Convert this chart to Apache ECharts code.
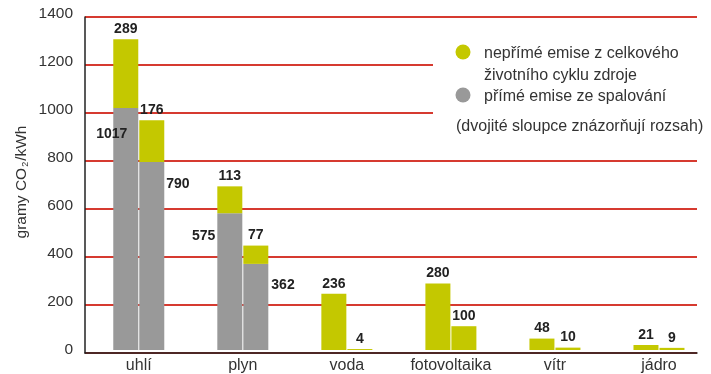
<!DOCTYPE html>
<html>
<head>
<meta charset="utf-8">
<script src="https://cdn.jsdelivr.net/npm/echarts@6/dist/echarts.min.js"></script>
<style>
  html, body { margin: 0; padding: 0; background: #fff; }
  #chart { width: 711px; height: 374px; }
</style>
</head>
<body>
<div id="chart"></div>
<script>
// Emissions per source, grams CO2 per kWh; each source has a pair of bars (range)
const categories = ['uhlí', 'plyn', 'voda', 'fotovoltaika', 'vítr', 'jádro'];
// left bar of each pair
const directA   = [1017, 575, null, null, null, null];
const indirectA = [289, 113, 236, 280, 48, 21];
// right bar of each pair
const directB   = [790, 362, null, null, null, null];
const indirectB = [176, 77, 4, 100, 10, 9];
// value-axis ticks
const yTickValues = [0, 200, 400, 600, 800, 1000, 1200, 1400];

const GREEN = '#c4c800';
const GREY = '#999999';
const GRID_RED = '#d63a30';
const FONT = '"Liberation Sans", Arial, sans-serif';

// label placement for the grey segments (relative to the bar rectangle)
const greyLabelA = [[14, 26], [-2, 23]];
const greyLabelB = [[27, 22], [28, 21]];

function greyData(values, offsets, align) {
  return values.map((v, i) => {
    if (v == null) return null;
    return {
      value: v,
      label: { show: true, position: offsets[i], align: align, verticalAlign: 'middle' }
    };
  });
}

const labelStyle = {
  fontFamily: FONT, fontWeight: 'bold', fontSize: 14, color: '#222'
};

const yMin = yTickValues[0];
const yMax = yTickValues[yTickValues.length - 1];
const yStep = yTickValues[1] - yTickValues[0];

const chart = echarts.init(document.getElementById('chart'), null, { renderer: 'canvas' });

const option = {
  animation: false,
  backgroundColor: '#fff',
  grid: [
    // bars
    { left: 86.75, right: -14, top: 17, bottom: 21 },
    // value axis + gridlines
    { left: 85, right: 14, top: 17, bottom: 21 }
  ],
  xAxis: [
    {
      type: 'category', gridIndex: 0, data: categories,
      axisLine: { show: false }, axisTick: { show: false },
      axisLabel: { fontFamily: FONT, fontSize: 16, color: '#333', margin: 8, interval: 0, hideOverlap: false }
    },
    {
      type: 'value', gridIndex: 1, min: 0, max: 1,
      axisLine: { show: true, onZero: false, lineStyle: { color: '#222', width: 1.5 } },
      axisTick: { show: false }, axisLabel: { show: false }, splitLine: { show: false }
    }
  ],
  yAxis: [
    {
      type: 'value', gridIndex: 0, min: yMin, max: yMax, interval: yStep,
      show: false, splitLine: { show: false }
    },
    {
      type: 'value', gridIndex: 1, min: yMin, max: yMax, interval: yStep,
      axisLine: { show: true, lineStyle: { color: '#222', width: 1.5 } },
      axisTick: { show: false },
      axisLabel: {
        fontFamily: FONT, fontSize: 15.5, color: '#333', margin: 12,
        verticalAlign: 'bottom', padding: [0, 0, -5, 0],
        formatter: v => String(v)
      },
      splitLine: { show: true, lineStyle: { color: GRID_RED, width: 2 } }
    }
  ],
  series: [
    {
      type: 'bar', xAxisIndex: 0, yAxisIndex: 0, stack: 'a', barWidth: 25, barGap: '4%',
      itemStyle: { color: GREY },
      label: Object.assign({ show: false, formatter: '{c}' }, labelStyle),
      data: greyData(directA, greyLabelA, 'right')
    },
    {
      type: 'bar', xAxisIndex: 0, yAxisIndex: 0, stack: 'a', barWidth: 25, barGap: '4%',
      itemStyle: { color: GREEN },
      label: Object.assign({ show: true, position: 'top', distance: 3 }, labelStyle),
      data: indirectA
    },
    {
      type: 'bar', xAxisIndex: 0, yAxisIndex: 0, stack: 'b', barWidth: 25, barGap: '4%',
      itemStyle: { color: GREY },
      label: Object.assign({ show: false, formatter: '{c}' }, labelStyle),
      data: greyData(directB, greyLabelB, 'left')
    },
    {
      type: 'bar', xAxisIndex: 0, yAxisIndex: 0, stack: 'b', barWidth: 25, barGap: '4%',
      itemStyle: { color: GREEN },
      label: Object.assign({ show: true, position: 'top', distance: 3 }, labelStyle),
      data: indirectB
    }
  ],
  graphic: [
    // legend panel sits over the gridlines
    { type: 'rect', z: 50, shape: { x: 433, y: 32, width: 278, height: 108 }, style: { fill: '#fff' } },
    { type: 'circle', z: 51, shape: { cx: 463, cy: 52, r: 7.5 }, style: { fill: GREEN } },
    { type: 'circle', z: 51, shape: { cx: 463, cy: 95, r: 7.5 }, style: { fill: GREY } },
    { type: 'text', z: 51, x: 484, y: 54, style: { text: 'nepřímé emise z celkového', font: '16px ' + FONT, fill: '#333', verticalAlign: 'middle' } },
    { type: 'text', z: 51, x: 484, y: 76, style: { text: 'životního cyklu zdroje', font: '16px ' + FONT, fill: '#333', verticalAlign: 'middle' } },
    { type: 'text', z: 51, x: 484, y: 97, style: { text: 'přímé emise ze spalování', font: '16px ' + FONT, fill: '#333', verticalAlign: 'middle' } },
    { type: 'text', z: 51, x: 456, y: 127, style: { text: '(dvojité sloupce znázorňují rozsah)', font: '16px ' + FONT, fill: '#333', verticalAlign: 'middle' } },
    // y-axis title with subscript
    {
      type: 'text', z: 51, x: 21, y: 182, rotation: Math.PI / 2,
      style: {
        text: '{m|gramy CO}{s|2}{m|/kWh}',
        align: 'center', verticalAlign: 'middle',
        rich: {
          m: { fontFamily: FONT, fontSize: 15.5, fill: '#333', lineHeight: 18, verticalAlign: 'bottom' },
          s: { fontFamily: FONT, fontSize: 9, fill: '#333', lineHeight: 18, verticalAlign: 'bottom', padding: [0, 1, 0, 1] }
        }
      }
    }
  ]
};

chart.setOption(option);
</script>
</body>
</html>
